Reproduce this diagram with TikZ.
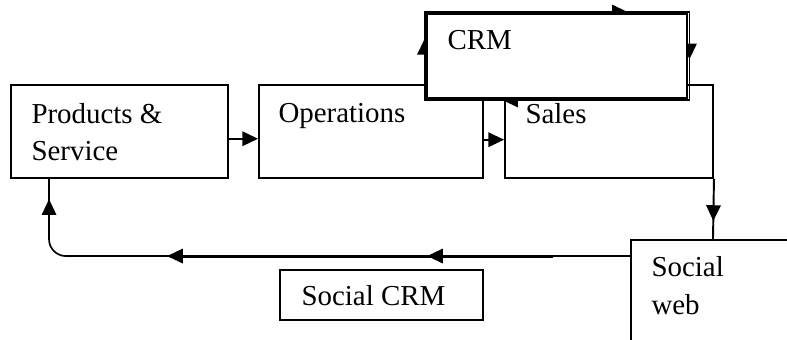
\documentclass[tikz,border=0pt]{standalone}
\usepackage{fontspec}
\setmainfont{Liberation Serif}
\usetikzlibrary{arrows.meta, calc, backgrounds, decorations.markings}

\tikzset{
  box/.style={draw, line width=0.8pt, inner sep=0pt},
  boxtext/.style={anchor=north west, inner sep=0pt, align=left, font=\fontsize{12}{15.5}\selectfont},
  tip/.style={-{Triangle[length=6.5pt,width=6pt]}, line width=0.8pt},
  link/.style={line width=0.7pt},
  midtip/.style={postaction={decorate, decoration={markings,
      mark=at position #1 with {\arrow{Triangle[length=6.5pt,width=6pt]}}}}},
}

\begin{document}
\begin{tikzpicture}[x=0.415pt, y=-0.415pt]
  \useasboundingbox (0,0) rectangle (787,339);
  \clip (0,0) rectangle (787,339);

  % value chain
  \node[box, minimum width=90.06pt, minimum height=38.6pt] (prod) at (119.5,131.5) {};
  \node[box, minimum width=92.96pt, minimum height=38.6pt] (ops) at (371,131.5) {};
  \node[box, minimum width=86.32pt, minimum height=38.6pt] (sales) at (609,131.5) {};
  \node[box, fill=white, minimum width=107.9pt, minimum height=34.86pt] (crm) at (557,56) {};
  \node[box, minimum width=84.25pt, minimum height=20.75pt] (scrm) at (381.5,295) {};
  \node[box, minimum width=68.06pt, minimum height=58.1pt] (web) at (713,310) {};

  \node[boxtext] (prod-label) at ($(prod.north west)+(21,18.5)$) {Products \&\\Service};
  \node[boxtext] (ops-label) at ($(ops.north west)+(20,18.5)$) {Operations};
  \node[boxtext] (sales-label) at ($(sales.north west)+(21,18.5)$) {Sales};
  \node[boxtext] (crm-label) at ($(crm.north west)+(21,17.3)$) {CRM};
  \node[boxtext] (scrm-label) at ($(scrm.north west)+(22,16.3)$) {Social CRM};
  \node[boxtext] (web-label) at ($(web.north west)+(21,17.3)$) {Social\\web};

  \draw[tip] ([yshift=-3pt]prod.east) -- ([yshift=-3pt]ops.west);
  \draw[tip] ([yshift=-3.4pt]ops.east) -- ([yshift=-3.4pt]sales.west);
  \draw[link, line width=0.8pt, midtip=17.4pt] (sales.south east) -- (web.north);

  % feedback from the social web
  \coordinate (fb-start) at ($(web.north west)+(0,17)$);
  \coordinate (fb-end) at ($(prod.south west)+(39,0)$);
  \draw[link, rounded corners=7pt, midtip=84.2pt, midtip=192.1pt, midtip=261.7pt]
    (fb-start) -| (fb-end);
  \coordinate (fb-a) at (553,257);
  \coordinate (fb-b) at (170,257);
  \draw[line width=1.2pt] (fb-a) -- (fb-b);

  % CRM loop, behind its box
  \begin{scope}[on background layer]
    \draw[line width=0.8pt, midtip=25.3pt, midtip=120.8pt, midtip=166pt, midtip=260.6pt]
      ($(crm.south west)+(-1.5,1)$) rectangle ($(crm.north east)+(1.5,-1)$);
  \end{scope}
\end{tikzpicture}
\end{document}
